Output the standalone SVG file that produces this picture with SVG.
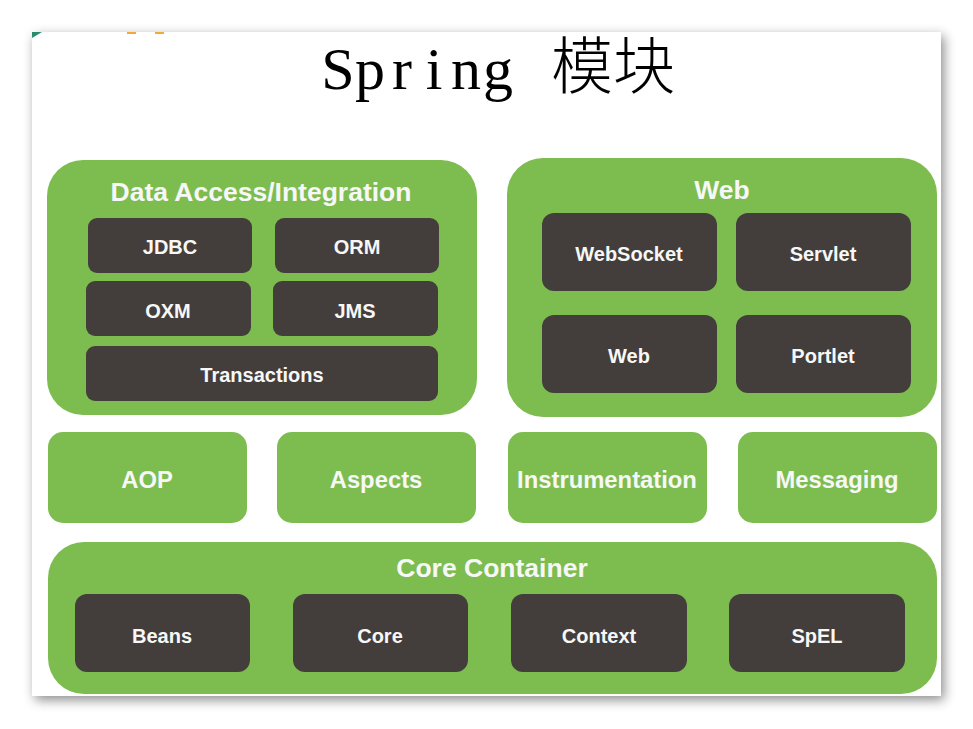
<svg xmlns="http://www.w3.org/2000/svg" width="973" height="729" viewBox="0 0 973 729">
  <defs>
    <filter id="shadow" x="-10%" y="-10%" width="120%" height="120%">
      <feDropShadow dx="3" dy="4" stdDeviation="6" flood-color="#000" flood-opacity="0.45"/>
    </filter>
  </defs>
  <style>
    .grp { fill: #7dbd50; }
    .mod { fill: #433e3b; }
    .t { font-family: "Liberation Sans", Arial, sans-serif; font-weight: bold; fill: #f7f7f7; text-anchor: middle; }
    .h { font-size: 26.5px; }
    .m { font-size: 20px; }
    .r { font-size: 23.8px; }
  </style>
  <rect width="973" height="729" fill="#ffffff"/>
  <rect x="32" y="32" width="909" height="664" fill="#ffffff" filter="url(#shadow)"/>
  <polygon points="32,32 42,32 32,38" fill="#2a8a6e"/>
  <rect x="127" y="32" width="9" height="2" fill="#f5a83a"/>
  <rect x="155" y="32" width="9" height="2" fill="#f5a83a"/>

  <g id="title">
    <text x="338 370 402 434 466 498" y="89" text-anchor="middle" font-family="'Liberation Serif', 'Times New Roman', serif" font-size="60" fill="#000">Spring</text>
    <text x="551" y="89" font-family="'Noto Sans CJK SC', sans-serif" font-size="62" font-weight="300" fill="#000">模块</text>
  </g>

  <g id="data-access">
    <rect class="grp" x="47" y="160" width="430" height="255" rx="36"/>
    <text class="t h" x="261" y="201">Data Access/Integration</text>
  </g>
  <g id="jdbc"><rect class="mod" x="88" y="218" width="164" height="55" rx="9"/><text class="t m" x="170" y="254">JDBC</text></g>
  <g id="orm"><rect class="mod" x="275" y="218" width="164" height="55" rx="9"/><text class="t m" x="357" y="254">ORM</text></g>
  <g id="oxm"><rect class="mod" x="86" y="281" width="165" height="55" rx="9"/><text class="t m" x="168" y="318">OXM</text></g>
  <g id="jms"><rect class="mod" x="273" y="281" width="165" height="55" rx="9"/><text class="t m" x="355" y="318">JMS</text></g>
  <g id="transactions"><rect class="mod" x="86" y="346" width="352" height="55" rx="9"/><text class="t m" x="262" y="382">Transactions</text></g>

  <g id="web-group">
    <rect class="grp" x="507" y="158" width="430" height="259" rx="36"/>
    <text class="t h" x="722" y="199">Web</text>
  </g>
  <g id="websocket"><rect class="mod" x="542" y="213" width="175" height="78" rx="12"/><text class="t m" x="629" y="261">WebSocket</text></g>
  <g id="servlet"><rect class="mod" x="736" y="213" width="175" height="78" rx="12"/><text class="t m" x="823" y="261">Servlet</text></g>
  <g id="web"><rect class="mod" x="542" y="315" width="175" height="78" rx="12"/><text class="t m" x="629" y="363">Web</text></g>
  <g id="portlet"><rect class="mod" x="736" y="315" width="175" height="78" rx="12"/><text class="t m" x="823" y="363">Portlet</text></g>

  <g id="aop"><rect class="grp" x="48" y="432" width="199" height="91" rx="15"/><text class="t r" x="147" y="488">AOP</text></g>
  <g id="aspects"><rect class="grp" x="277" y="432" width="199" height="91" rx="15"/><text class="t r" x="376" y="488">Aspects</text></g>
  <g id="instrumentation"><rect class="grp" x="508" y="432" width="199" height="91" rx="15"/><text class="t r" x="607" y="488">Instrumentation</text></g>
  <g id="messaging"><rect class="grp" x="738" y="432" width="199" height="91" rx="15"/><text class="t r" x="837" y="488">Messaging</text></g>

  <g id="core-container">
    <rect class="grp" x="48" y="542" width="889" height="152" rx="36"/>
    <text class="t h" x="492" y="577">Core Container</text>
  </g>
  <g id="beans"><rect class="mod" x="75" y="594" width="175" height="78" rx="12"/><text class="t m" x="162" y="643">Beans</text></g>
  <g id="core"><rect class="mod" x="293" y="594" width="175" height="78" rx="12"/><text class="t m" x="380" y="643">Core</text></g>
  <g id="context"><rect class="mod" x="511" y="594" width="176" height="78" rx="12"/><text class="t m" x="599" y="643">Context</text></g>
  <g id="spel"><rect class="mod" x="729" y="594" width="176" height="78" rx="12"/><text class="t m" x="817" y="643">SpEL</text></g>

  <g id="connectors"/>
</svg>
